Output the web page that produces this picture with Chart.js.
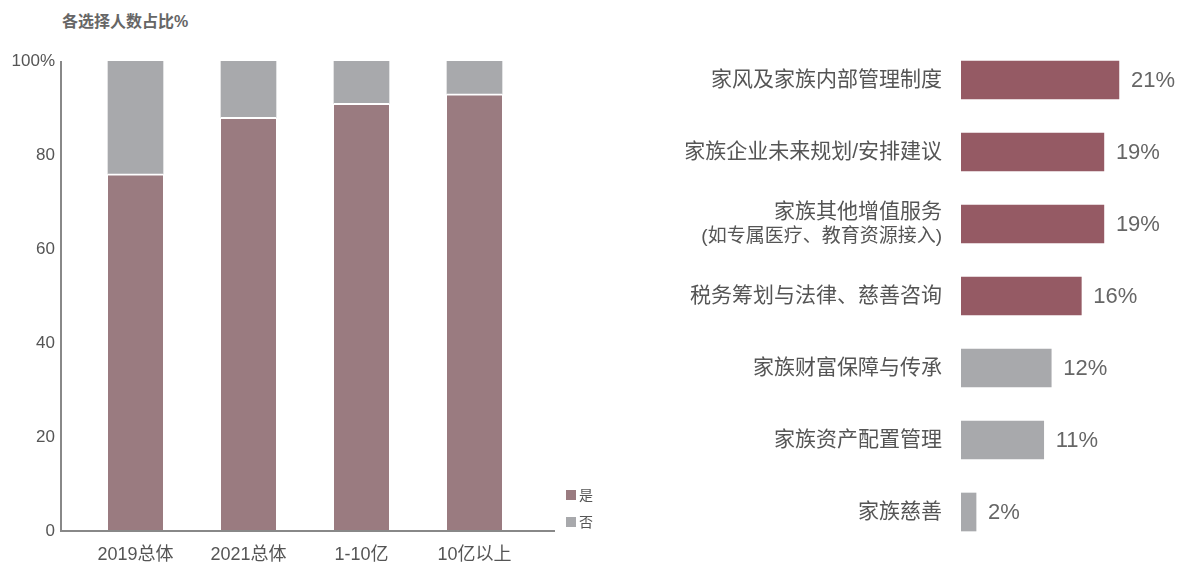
<!DOCTYPE html>
<html lang="zh">
<head>
<meta charset="utf-8">
<script src="https://cdn.jsdelivr.net/npm/chart.js@4.4.1/dist/chart.umd.min.js"></script>
<style>
  body { margin: 0; background: #fff; width: 1179px; height: 566px; position: relative; overflow: hidden;
         font-family: 'Liberation Sans', 'Noto Sans CJK SC', sans-serif; }
  #title { position: absolute; left: 62px; top: 10px; font-size: 16px; line-height: 24px; font-weight: bold; color: #666; }
  #leftChart { position: absolute; left: 0; top: 0; }
  #rightChart { position: absolute; left: 620px; top: 0; }
  .legend { position: absolute; left: 566px; font-size: 14px; line-height: 16px; color: #555; }
  .legend span { display: inline-block; width: 10px; height: 10px; margin-right: 3px; }
</style>
</head>
<body>
<div id="title">各选择人数占比%</div>
<canvas id="leftChart" width="610" height="566"></canvas>
<canvas id="rightChart" width="559" height="566"></canvas>
<div class="legend" style="top:487px"><span style="background:#9a7b80"></span>是</div>
<div class="legend" style="top:514px"><span style="background:#a8a9ac"></span>否</div>
<script>
// left: share choosing yes / no
const groups = ['2019总体', '2021总体', '1-10亿', '10亿以上'];
const yesShare = [76, 88, 91, 93];
const noShare = [24, 12, 9, 7];
const yTicks = [0, 20, 40, 60, 80, 100];

// right: service needs
const services = [
    '家风及家族内部管理制度',
    '家族企业未来规划/安排建议',
    ['家族其他增值服务', '(如专属医疗、教育资源接入)'],
    '税务筹划与法律、慈善咨询',
    '家族财富保障与传承',
    '家族资产配置管理',
    '家族慈善'
];
const serviceShare = [21, 19, 19, 16, 12, 11, 2];
const serviceColors = ['#955a64', '#955a64', '#955a64', '#955a64', '#a8a9ac', '#a8a9ac', '#a8a9ac'];

const FONT = "'Liberation Sans', 'Noto Sans CJK SC', sans-serif";
Chart.defaults.font.family = FONT;
Chart.defaults.color = '#555';

const axisLines = {
    id: 'axisLines',
    afterDraw(chart) {
        const { ctx, chartArea } = chart;
        ctx.save();
        ctx.strokeStyle = '#888';
        ctx.lineWidth = 2;
        ctx.beginPath();
        ctx.moveTo(chartArea.left - 18, chartArea.top);
        ctx.lineTo(chartArea.left - 18, chartArea.bottom);
        ctx.lineTo(chartArea.right + 24, chartArea.bottom);
        ctx.stroke();
        ctx.restore();
    }
};

new Chart(document.getElementById('leftChart'), {
    type: 'bar',
    data: {
        labels: groups,
        datasets: [{
            label: '是',
            data: yesShare,
            backgroundColor: '#9a7b80',
            borderColor: '#fff',
            borderWidth: { top: 2, right: 0, bottom: 0, left: 0 },
            barThickness: 55,
        }, {
            label: '否',
            data: noShare,
            backgroundColor: '#a8a9ac',
            borderWidth: 0,
            barThickness: 55,
        }]
    },
    options: {
        responsive: false,
        animation: false,
        layout: { padding: { top: 61, right: 79, left: 0, bottom: 0 } },
        plugins: { legend: { display: false }, tooltip: { enabled: false } },
        scales: {
            x: {
                stacked: true,
                grid: { display: false, drawTicks: false },
                border: { display: false },
                ticks: { padding: 13, color: '#555', font: { size: 18 } },
                afterFit(scale) { scale.height = 35; }
            },
            y: {
                stacked: true,
                min: 0,
                max: 100,
                grid: { display: false, drawTicks: false },
                border: { display: false },
                afterBuildTicks(scale) { scale.ticks = yTicks.map(v => ({ value: v })); },
                ticks: {
                    padding: 24,
                    color: '#555',
                    font: { size: 17 },
                    callback: v => v === 100 ? '100%' : v
                },
                afterFit(scale) { scale.width = 79; }
            }
        }
    },
    plugins: [axisLines]
});

// category labels (second line smaller) and value labels for the right chart
const rightLabels = {
    id: 'rightLabels',
    afterDatasetsDraw(chart) {
        const { ctx } = chart;
        const yScale = chart.scales.y;
        const meta = chart.getDatasetMeta(0);
        ctx.save();
        ctx.textBaseline = 'middle';
        ctx.fillStyle = '#555';
        ctx.textAlign = 'right';
        const labelX = chart.chartArea.left - 19;
        chart.data.labels.forEach((label, i) => {
            const y = yScale.getPixelForTick(i);
            if (Array.isArray(label)) {
                ctx.font = '21px ' + FONT;
                ctx.fillText(label[0], labelX, y - 12);
                ctx.font = '19px ' + FONT;
                ctx.fillText(label[1], labelX, y + 13);
            } else {
                ctx.font = '21px ' + FONT;
                ctx.fillText(label, labelX, y);
            }
        });
        ctx.font = '22px ' + FONT;
        ctx.fillStyle = '#666';
        ctx.textAlign = 'left';
        meta.data.forEach((bar, i) => {
            ctx.fillText(chart.data.datasets[0].data[i] + '%', bar.x + 12, bar.y + 1);
        });
        ctx.restore();
    }
};

new Chart(document.getElementById('rightChart'), {
    type: 'bar',
    data: {
        labels: services,
        datasets: [{
            data: serviceShare,
            backgroundColor: serviceColors,
            borderWidth: 0,
            barThickness: 38,
        }]
    },
    options: {
        indexAxis: 'y',
        responsive: false,
        animation: false,
        layout: { padding: { top: 44, bottom: 18, right: 30, left: 0 } },
        plugins: { legend: { display: false }, tooltip: { enabled: false } },
        scales: {
            x: { display: false, min: 0, max: 25 },
            y: {
                grid: { display: false, drawTicks: false },
                border: { display: false },
                ticks: { display: false },
                afterFit(scale) { scale.width = 341; }
            }
        }
    },
    plugins: [rightLabels]
});
</script>
</body>
</html>
